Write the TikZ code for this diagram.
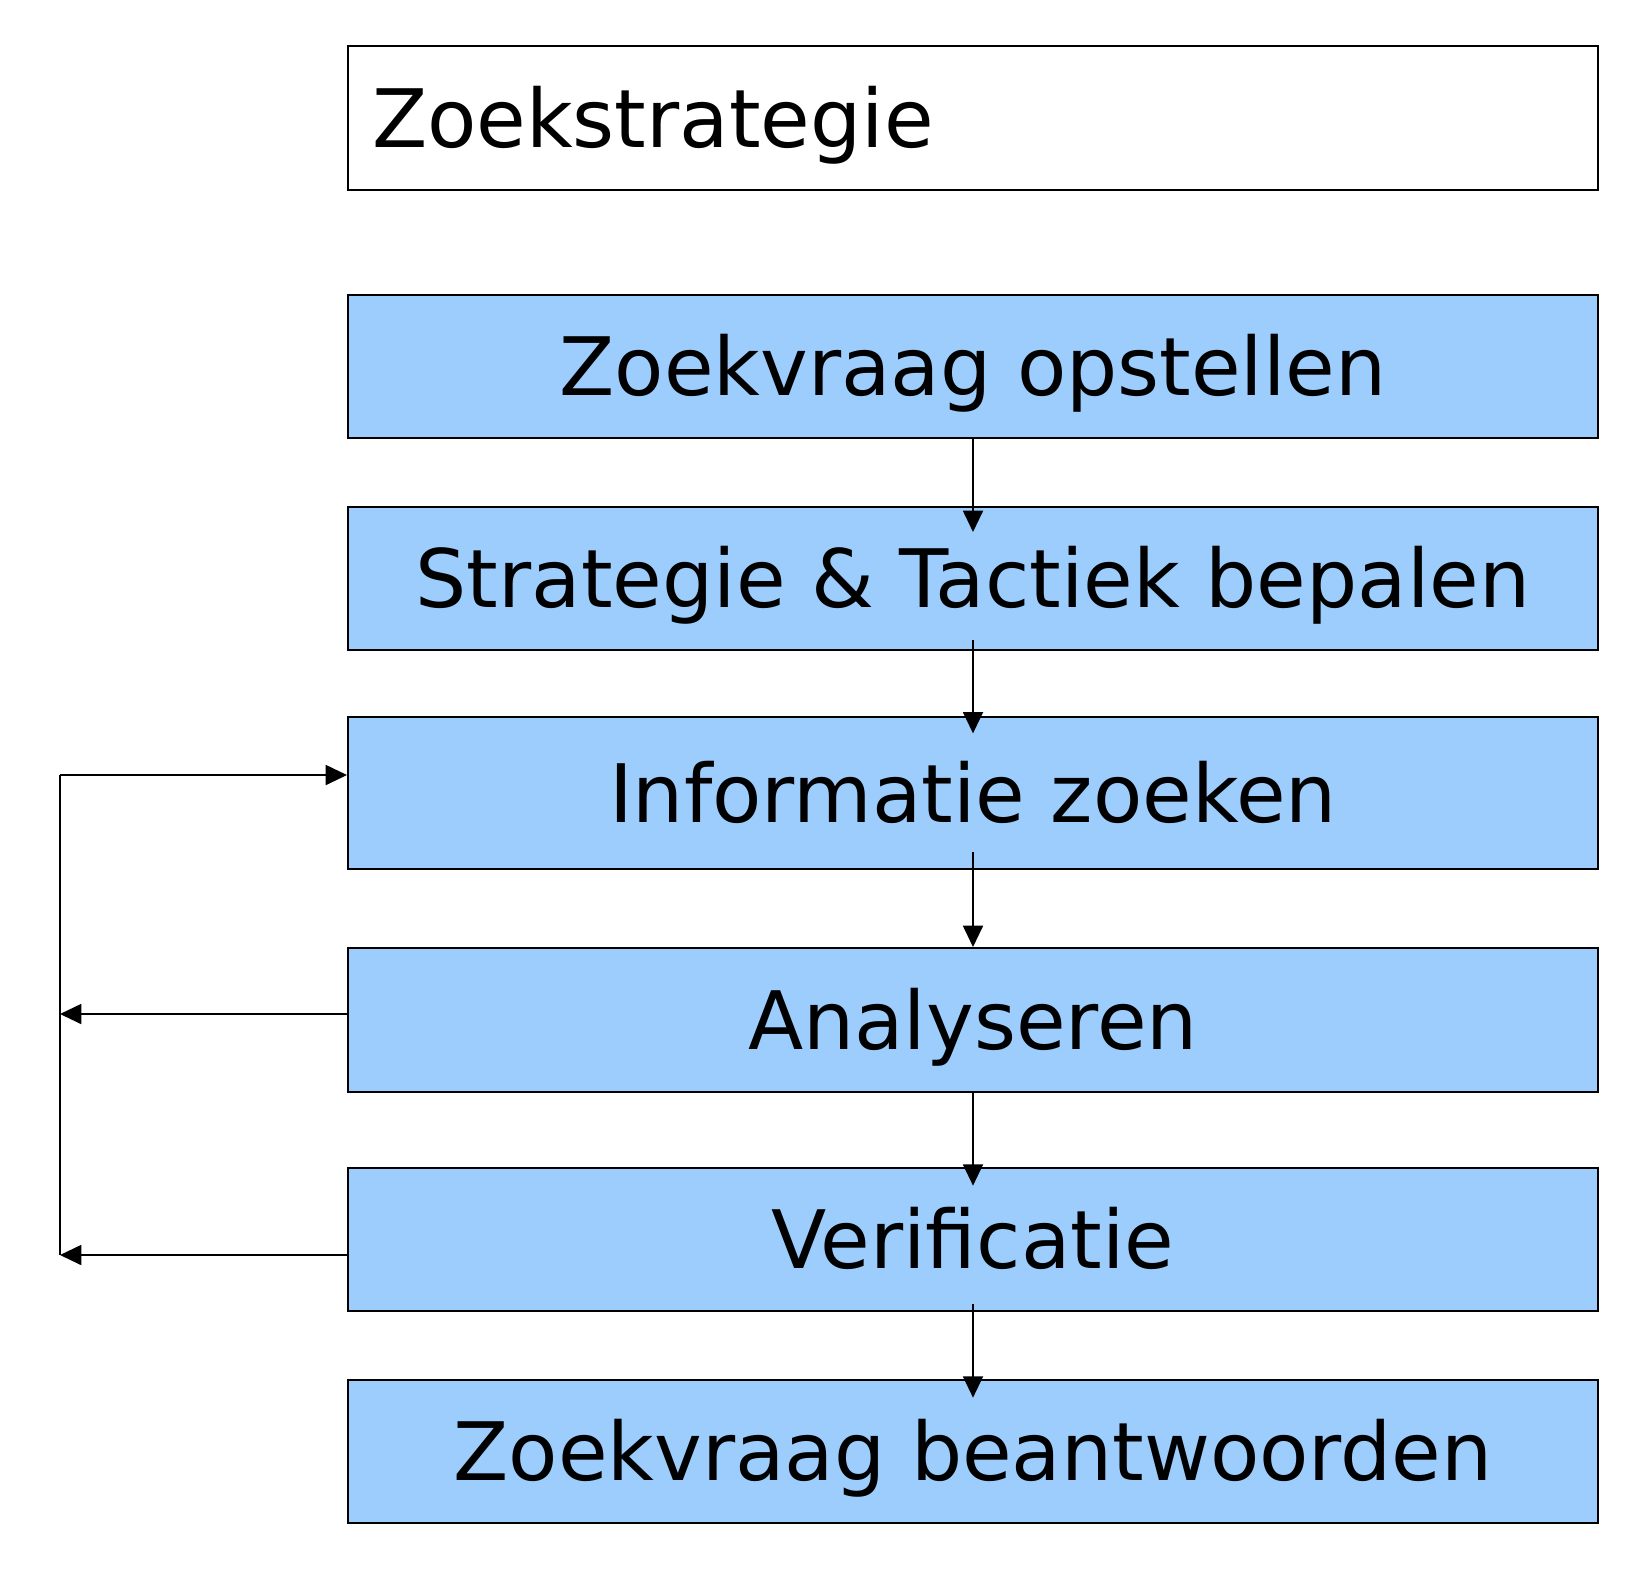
\documentclass[tikz,border=0pt]{standalone}
\usepackage{fontspec}
\setmainfont{DejaVu Sans}
\usetikzlibrary{arrows.meta}
\definecolor{boxblue}{HTML}{9CCDFD}
\begin{document}
\begin{tikzpicture}[x=0.75pt,y=-0.75pt,
  boxfont/.style={font=\fontsize{60.5}{72}\selectfont, text height=44.1pt, text depth=0pt},
  stepbox/.style={draw=black, line width=1.5pt, fill=boxblue, minimum width=937.5pt, minimum height=#1, inner sep=0pt, boxfont},
  stepbox/.default=107.25pt,
  titlebox/.style={draw=black, line width=1.5pt, fill=white, minimum height=108pt, inner xsep=18pt, inner ysep=0pt, text width=901.5pt, align=left, boxfont},
  arr/.style={line width=1.4pt, -{Triangle[length=16pt,width=15pt]}},
  plain/.style={line width=1.4pt}
]
\useasboundingbox[fill=white] (0,0) rectangle (1638,1568);
\node[titlebox] (b0) at (973,118) {Zoekstrategie};
\node[stepbox] (b1) at (973,366.5) {Zoekvraag opstellen};
\node[stepbox] (b2) at (973,578.5) {Strategie \& Tactiek bepalen};
\node[stepbox=114pt] (b3) at (973,793) {Informatie zoeken};
\node[stepbox=108pt] (b4) at (973,1020) {Analyseren};
\node[stepbox] (b5) at (973,1239.5) {Verificatie};
\node[stepbox] (b6) at (973,1451.5) {Zoekvraag beantwoorden};

\draw[arr] (b1.south) -- ([yshift=-19.5pt]b2.north);
\draw[arr] ([yshift=8pt]b2.south) -- ([yshift=-13pt]b3.north);
\draw[arr] ([yshift=13.5pt]b3.south) -- (b4.north);
\draw[arr] (b4.south) -- ([yshift=-14pt]b5.north);
\draw[arr] ([yshift=6pt]b5.south) -- ([yshift=-14pt]b6.north);

\coordinate (ltop) at (60,775);
\coordinate (l4) at (60,1014);
\coordinate (l5) at (60,1255);
\draw[plain] (ltop) -- (l5);
\draw[arr] (ltop) -- (b3.west |- ltop);
\draw[arr] (b4.west |- l4) -- (l4);
\draw[arr] (b5.west |- l5) -- (l5);
\end{tikzpicture}
\end{document}
